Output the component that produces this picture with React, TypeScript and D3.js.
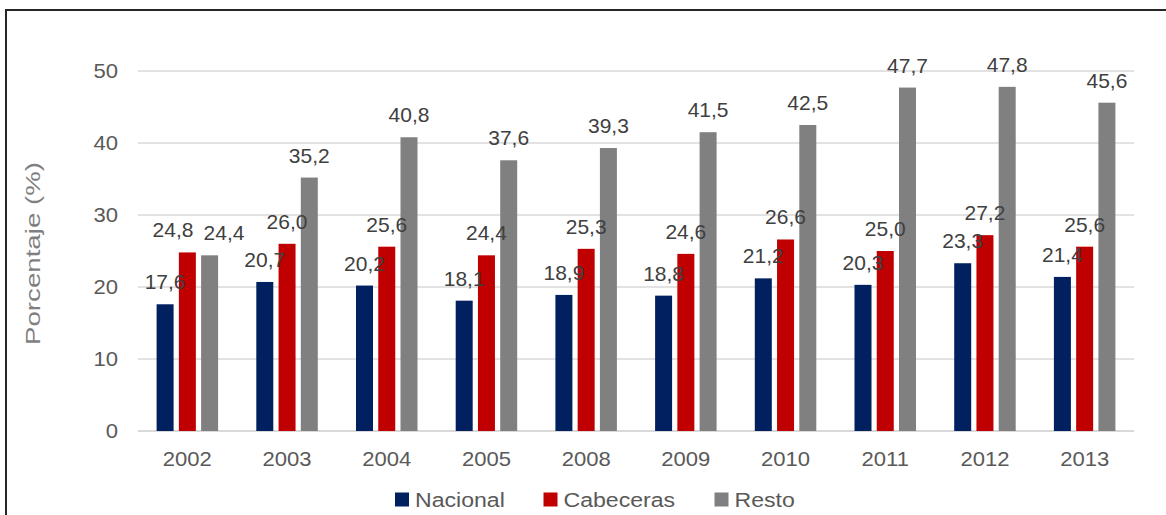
import React from "react";
import * as d3 from "d3";

const years = ["2002", "2003", "2004", "2005", "2008", "2009", "2010", "2011", "2012", "2013"];
const nacional = [17.6, 20.7, 20.2, 18.1, 18.9, 18.8, 21.2, 20.3, 23.3, 21.4];
const cabeceras = [24.8, 26.0, 25.6, 24.4, 25.3, 24.6, 26.6, 25.0, 27.2, 25.6];
const resto = [24.4, 35.2, 40.8, 37.6, 39.3, 41.5, 42.5, 47.7, 47.8, 45.6];
const seriesNames = ["Nacional", "Cabeceras", "Resto"];
const seriesColors = ["#002060", "#C00000", "#808080"];
const yTicks = [0, 10, 20, 30, 40, 50];

const FONT = "'Liberation Sans', Arial, sans-serif";

export default function App() {
  const W = 1166, H = 515;
  const x0 = d3.scaleBand<string>().domain(years).range([137.5, 1134.5]).padding(0);
  const groupW = 61.5;
  const x1 = d3.scaleBand<string>().domain(seriesNames).range([0, groupW]).paddingInner(0.236).paddingOuter(0);
  const y = d3.scaleLinear().domain([0, 50]).range([431, 71]);
  const data = [nacional, cabeceras, resto];
  const fmt = (v: number) => v.toFixed(1).replace(".", ",");
  const labelW = 41;

  const legendX = [395, 543.5, 714.5];

  // label layout with simple collision avoidance between neighbours in a group
  const labels = years.map((yr, i) => {
    const gx = (x0(yr) as number) + x0.bandwidth() / 2 - groupW / 2;
    const items = seriesNames.map((s, k) => {
      const v = data[k][i];
      return { key: s, v, cx: gx + (x1(s) as number) + x1.bandwidth() / 2, by: y(v) - 15 };
    });
    for (let k = 0; k < items.length - 1; k++) {
      const a = items[k], b = items[k + 1];
      if (Math.abs(a.by - b.by) < 16 && b.cx - a.cx < labelW) {
        const mid = (a.cx + b.cx) / 2;
        a.cx = mid - (labelW + 10) / 2;
        b.cx = mid + (labelW + 10) / 2;
      }
    }
    return { yr, items };
  });

  return (
    <svg width={W} height={H} style={{ position: "absolute", left: 0, top: 0, background: "#fff" }}>
      <rect x={0} y={0} width={W} height={H} fill="#fff" />
      {/* border */}
      <line x1={6} y1={10} x2={W + 5} y2={10} stroke="#262626" strokeWidth={2} />
      <line x1={6} y1={9} x2={6} y2={H + 5} stroke="#262626" strokeWidth={2} />

      {/* grid */}
      {yTicks.map((t) => (
        <line key={t} x1={138} x2={1134} y1={y(t)} y2={y(t)} stroke="#d9d9d9" strokeWidth={t === 0 ? 2 : 1.5} />
      ))}
      {yTicks.map((t) => (
        <text key={"t" + t} transform={`translate(118,${y(t)}) scale(1.05,1)`} textAnchor="end" dominantBaseline="central"
          fontFamily={FONT} fontSize={21} fill="#595959">{t}</text>
      ))}

      {/* y title */}
      <text transform={`translate(40,253.5) rotate(-90)`} textAnchor="middle" fontFamily={FONT} fontSize={21}
        fill="#7f7f7f" textLength={183} lengthAdjust="spacingAndGlyphs">Porcentaje (%)</text>

      {/* bars */}
      {years.map((yr, i) => {
        const gx = (x0(yr) as number) + x0.bandwidth() / 2 - groupW / 2;
        return (
          <g key={yr}>
            {seriesNames.map((s, k) => {
              const v = data[k][i];
              const bx = gx + (x1(s) as number);
              return (
                <rect key={s} x={bx} y={y(v)} width={x1.bandwidth()} height={y(0) - y(v)} fill={seriesColors[k]} />
              );
            })}
          </g>
        );
      })}

      {/* labels */}
      {labels.map((g) => (
        <g key={"l" + g.yr}>
          {g.items.map((it) => (
            <text key={it.key} transform={`translate(${it.cx},${it.by}) scale(1.05,1)`} textAnchor="middle"
              fontFamily={FONT} fontSize={20} fill="#404040">{fmt(it.v)}</text>
          ))}
        </g>
      ))}

      {/* x ticks */}
      {years.map((yr) => (
        <text key={"x" + yr} transform={`translate(${(x0(yr) as number) + x0.bandwidth() / 2},466) scale(1.05,1)`}
          textAnchor="middle" fontFamily={FONT} fontSize={21} fill="#595959">{yr}</text>
      ))}

      {/* legend */}
      {seriesNames.map((s, k) => (
        <g key={"lg" + s}>
          <rect x={legendX[k]} y={492.5} width={14} height={14} fill={seriesColors[k]} />
          <text transform={`translate(${legendX[k] + 20},507) scale(1.1,1)`} fontFamily={FONT} fontSize={21} fill="#595959">{s}</text>
        </g>
      ))}
    </svg>
  );
}
